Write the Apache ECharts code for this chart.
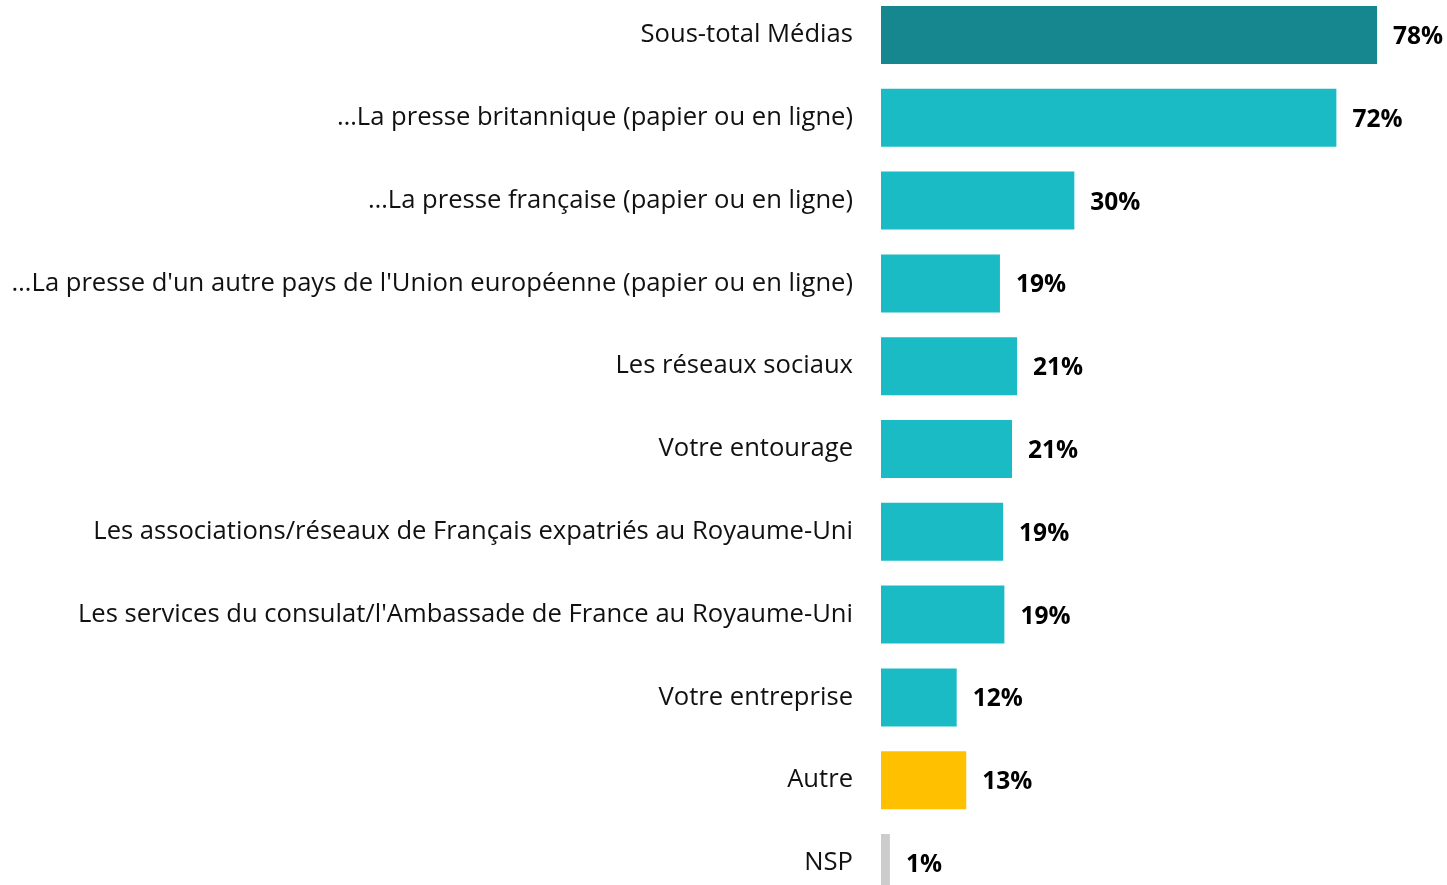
<!DOCTYPE html>
<html>
<head>
<meta charset="utf-8">
<script src="https://cdn.jsdelivr.net/npm/echarts@6/dist/echarts.min.js"></script>
<style>
  html, body { margin: 0; padding: 0; background: #fff; }
  #chart { width: 1447px; height: 885px; }
</style>
</head>
<body>
<div id="chart"></div>
<script>
const categories = [
  'Sous-total Médias',
  '…La presse britannique (papier ou en ligne)',
  '…La presse française (papier ou en ligne)',
  "…La presse d'un autre pays de l'Union européenne (papier ou en ligne)",
  'Les réseaux sociaux',
  'Votre entourage',
  'Les associations/réseaux de Français expatriés au Royaume-Uni',
  "Les services du consulat/l'Ambassade de France au Royaume-Uni",
  'Votre entreprise',
  'Autre',
  'NSP'
];
const values = [78.0, 71.6, 30.4, 18.7, 21.4, 20.6, 19.2, 19.4, 11.9, 13.4, 1.4];
const valueLabels = ['78%', '72%', '30%', '19%', '21%', '21%', '19%', '19%', '12%', '13%', '1%'];
const barColors = ['#17878f', '#1abbc4', '#1abbc4', '#1abbc4', '#1abbc4', '#1abbc4',
  '#1abbc4', '#1abbc4', '#1abbc4', '#ffc000', '#cccccc'];

const chart = echarts.init(document.getElementById('chart'));

chart.setOption({
  animation: false,
  grid: {
    left: 881,
    width: 636,
    top: -6.4,
    height: 910.8,
    containLabel: false,
    outerBoundsMode: 'none'
  },
  xAxis: {
    type: 'value',
    min: 0,
    max: 100,
    show: false
  },
  yAxis: {
    type: 'category',
    inverse: true,
    data: categories,
    axisLine: { show: false },
    axisTick: { show: false },
    axisLabel: {
      margin: 28,
      color: '#111',
      fontFamily: 'Open Sans',
      fontSize: 25.6
    }
  },
  series: [{
    type: 'bar',
    barWidth: 58,
    data: values.map((v, i) => ({
      value: v,
      itemStyle: { color: barColors[i] }
    })),
    label: {
      show: true,
      position: 'right',
      distance: 16,
      offset: [0, 2],
      color: '#000',
      fontFamily: 'Open Sans',
      fontWeight: 'bold',
      fontSize: 24.5,
      formatter: p => valueLabels[p.dataIndex]
    }
  }]
});
</script>
</body>
</html>
